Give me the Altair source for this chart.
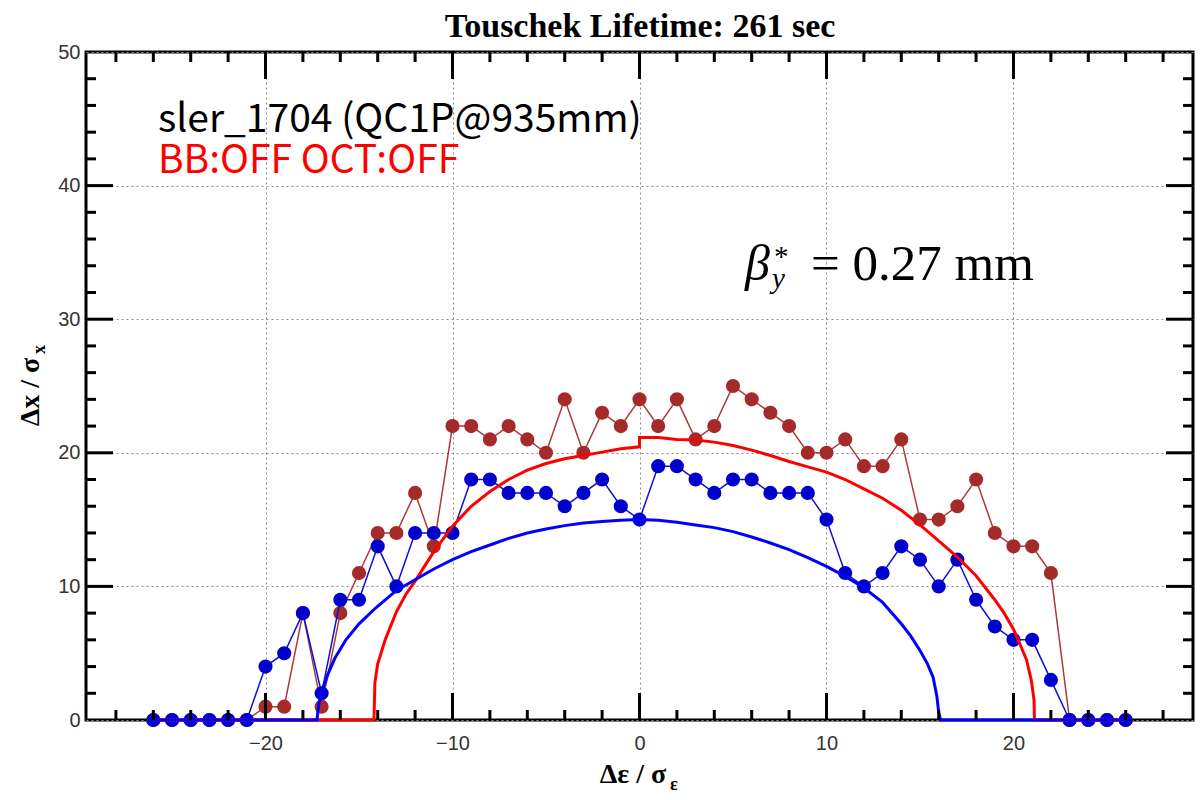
import altair as alt
import pandas as pd

# Tracked particle amplitudes at each energy offset (in units of sigma_E)
pt_x = [-26, -25, -24, -23, -22, -21, -20, -19, -18, -17, -16, -15, -14, -13, -12, -11, -10,
        -9, -8, -7, -6, -5, -4, -3, -2, -1, 0, 1, 2, 3, 4, 5, 6, 7, 8, 9, 10,
        11, 12, 13, 14, 15, 16, 17, 18, 19, 20, 21, 22, 23, 24, 25, 26]
blue_pts = [0, 0, 0, 0, 0, 0, 4, 5, 8, 2, 9, 9, 13, 10, 14, 14, 14,
            18, 18, 17, 17, 17, 16, 17, 18, 16, 15, 19, 19, 18, 17, 18, 18, 17, 17, 17, 15,
            11, 10, 11, 13, 12, 10, 12, 9, 7, 6, 6, 3, 0, 0, 0, 0]
brown_pts = [0, 0, 0, 0, 0, 0, 1, 1, 8, 1, 8, 11, 14, 14, 17, 13, 22,
             22, 21, 22, 21, 20, 24, 20, 23, 22, 24, 22, 24, 21, 22, 25, 24, 23, 22, 20, 20,
             21, 19, 19, 21, 15, 15, 16, 18, 14, 13, 13, 11, 0, 0, 0, 0]

# Physical aperture curves
blue_curve_x = [-26, -17.25, -17.15, -17.0, -16.7, -16.3, -15.7, -15.0, -14.1,
                -13, -12, -11, -10, -9, -8, -7, -6, -5, -4, -3, -2, -1, 0,
                1, 2, 3, 4, 5, 6, 7, 8, 9, 10, 11, 12, 13, 14,
                14.5, 15.0, 15.4, 15.7, 15.9, 16.0, 16.1, 26]
blue_curve_y = [0, 0, 1.2, 2.1, 3.3, 4.6, 6.0, 7.2, 8.4,
                9.7, 10.5, 11.3, 12.0, 12.6, 13.1, 13.6, 14.0, 14.3, 14.55, 14.75, 14.85, 14.95, 15.0,
                14.95, 14.8, 14.6, 14.4, 14.1, 13.7, 13.25, 12.75, 12.15, 11.5, 10.75, 9.9, 8.8, 7.2,
                6.3, 5.2, 4.2, 3.2, 1.8, 0.6, 0, 0]
red_curve_x = [-26, -14.2, -14.15, -14.0, -13.6, -13.0, -12.5, -12.0,
               -11, -10, -9, -8, -7, -6, -5, -4, -3, -2, -1, 0, 0,
               1, 2, 3, 4, 5, 6, 7, 8, 9, 10, 11, 12, 13, 14, 15, 16, 17, 18,
               18.5, 19.0, 19.5, 20.0, 20.4, 20.7, 20.95, 21.1, 21.12, 26]
red_curve_y = [0, 0, 2.8, 4.2, 6.0, 8.1, 9.4, 10.4,
               12.6, 14.5, 16.0, 17.1, 18.0, 18.7, 19.2, 19.55, 19.8, 20.05, 20.3, 20.45, 21.15,
               21.15, 21.0, 20.95, 20.8, 20.55, 20.2, 19.8, 19.35, 18.95, 18.55, 18.0, 17.3, 16.6,
               15.7, 14.6, 13.4, 12.2, 10.8,
               9.9, 9.0, 8.0, 6.8, 5.5, 4.5, 3.0, 1.5, 0, 0]

# Axis tick values
x_major = [-20, -10, 0, 10, 20]
x_minor = [-28, -26, -24, -22, -18, -16, -14, -12, -8, -6, -4, -2,
           2, 4, 6, 8, 12, 14, 16, 18, 22, 24, 26, 28]
y_labels = [0, 10, 20, 30, 40, 50]
y_major = [10, 20, 30, 40]
y_minor = [2, 4, 6, 8, 12, 14, 16, 18, 22, 24, 26, 28, 32, 34, 36, 38, 42, 44, 46, 48]

W, H = 1107, 668
MAJ, MIN = 27, 10

xscale = alt.Scale(domain=[-29.6, 29.6], nice=False, zero=False)
yscale = alt.Scale(domain=[0, 50], nice=False, zero=False)
label_style = dict(labelFont="Liberation Sans", labelFontSize=20, labelColor="#333333",
                   domain=False, ticks=False, grid=True, gridDash=[2, 3],
                   gridColor="#8a8a8a", gridWidth=1, title=None, format="d")
xaxis = alt.Axis(values=x_major, labelPadding=13, **label_style)
yaxis = alt.Axis(values=y_labels, labelPadding=6, **label_style)


def X(field):
    return alt.X(field, type="quantitative", scale=xscale, axis=xaxis)


def Y(field):
    return alt.Y(field, type="quantitative", scale=yscale, axis=yaxis)


pts = pd.DataFrame({"x": pt_x, "blue": blue_pts, "brown": brown_pts})
blue_curve = pd.DataFrame({"x": blue_curve_x, "y": blue_curve_y,
                           "i": list(range(len(blue_curve_x)))})
red_curve = pd.DataFrame({"x": red_curve_x, "y": red_curve_y,
                          "i": list(range(len(red_curve_x)))})

DOT = 200
brown_line = alt.Chart(pts).mark_line(color="#ad3a3a", strokeWidth=1.5).encode(
    x=X("x"), y=Y("brown"))
brown_dots = alt.Chart(pts).mark_circle(color="#a52a2a", size=DOT, opacity=1).encode(
    x=X("x"), y=Y("brown"))
blue_line = alt.Chart(pts).mark_line(color="#1010d0", strokeWidth=1.5).encode(
    x=X("x"), y=Y("blue"))
blue_dots = alt.Chart(pts).mark_circle(color="#0000cc", size=DOT, opacity=1).encode(
    x=X("x"), y=Y("blue"))
red_line = alt.Chart(red_curve).mark_line(color="#ff0000", strokeWidth=3).encode(
    x=X("x"), y=Y("y"), order="i:Q")
blue_cline = alt.Chart(blue_curve).mark_line(color="#0000ff", strokeWidth=3).encode(
    x=X("x"), y=Y("y"), order="i:Q")

# Inward-pointing ticks on all four sides
tick = dict(color="black", strokeWidth=3)
xmaj = pd.DataFrame({"v": x_major})
xmin = pd.DataFrame({"v": x_minor})
ymaj = pd.DataFrame({"v": y_major})
ymin = pd.DataFrame({"v": y_minor})
ticks = [
    alt.Chart(xmaj).mark_rule(**tick).encode(x=X("v"), y=alt.value(H), y2=alt.value(H - MAJ)),
    alt.Chart(xmaj).mark_rule(**tick).encode(x=X("v"), y=alt.value(0), y2=alt.value(MAJ)),
    alt.Chart(xmin).mark_rule(**tick).encode(x=X("v"), y=alt.value(H), y2=alt.value(H - MIN)),
    alt.Chart(xmin).mark_rule(**tick).encode(x=X("v"), y=alt.value(0), y2=alt.value(MIN)),
    alt.Chart(ymaj).mark_rule(**tick).encode(y=Y("v"), x=alt.value(0), x2=alt.value(MAJ)),
    alt.Chart(ymaj).mark_rule(**tick).encode(y=Y("v"), x=alt.value(W), x2=alt.value(W - MAJ)),
    alt.Chart(ymin).mark_rule(**tick).encode(y=Y("v"), x=alt.value(0), x2=alt.value(MIN)),
    alt.Chart(ymin).mark_rule(**tick).encode(y=Y("v"), x=alt.value(W), x2=alt.value(W - MIN)),
]


def label(text, x, y, **kw):
    return alt.Chart(pd.DataFrame({"t": [text]})).mark_text(**kw).encode(
        x=alt.value(x), y=alt.value(y), text="t:N")


serif_b = dict(font="Liberation Serif", fontWeight="bold", color="black")
texts = [
    label("Touschek Lifetime: 261 sec", 554, -15, fontSize=34, align="center",
          baseline="alphabetic", **serif_b),
    label("Δε / σ", 547, 731, fontSize=28, align="center", baseline="alphabetic", **serif_b),
    label("ε", 584, 738, fontSize=18, align="left", baseline="alphabetic", **serif_b),
    label("Δx / σ", -47, 340, fontSize=28, angle=270, align="center",
          baseline="alphabetic", **serif_b),
    label("x", -41, 302, fontSize=18, angle=270, align="left", baseline="alphabetic", **serif_b),
    label("sler_1704 (QC1P@935mm)", 72, 80, fontSize=39, font="Noto Sans CJK JP",
          color="black", align="left", baseline="alphabetic"),
    label("BB:OFF OCT:OFF", 72, 121, fontSize=39, font="Noto Sans CJK JP",
          color="#ff0000", align="left", baseline="alphabetic"),
    label("β", 659, 228, fontSize=50, font="Liberation Serif", fontStyle="italic",
          color="black", align="left", baseline="alphabetic"),
    label("y", 686, 236, fontSize=29, font="Liberation Serif", fontStyle="italic",
          color="black", align="left", baseline="alphabetic"),
    label("*", 688, 214, fontSize=29, font="Liberation Serif",
          color="black", align="left", baseline="alphabetic"),
    label("= 0.27 mm", 725, 228, fontSize=51, font="Liberation Serif",
          color="black", align="left", baseline="alphabetic"),
]

chart = alt.layer(
    brown_line, brown_dots, blue_line, blue_dots, red_line, blue_cline, *ticks, *texts
).properties(
    width=W, height=H,
    autosize=alt.AutoSizeParams(type="none"),
    padding={"left": 86, "top": 52, "right": 11, "bottom": 80},
    background="white",
).configure_view(stroke="black", strokeWidth=3)

chart.save("out.html", embed_options={"renderer": "svg", "actions": False})
